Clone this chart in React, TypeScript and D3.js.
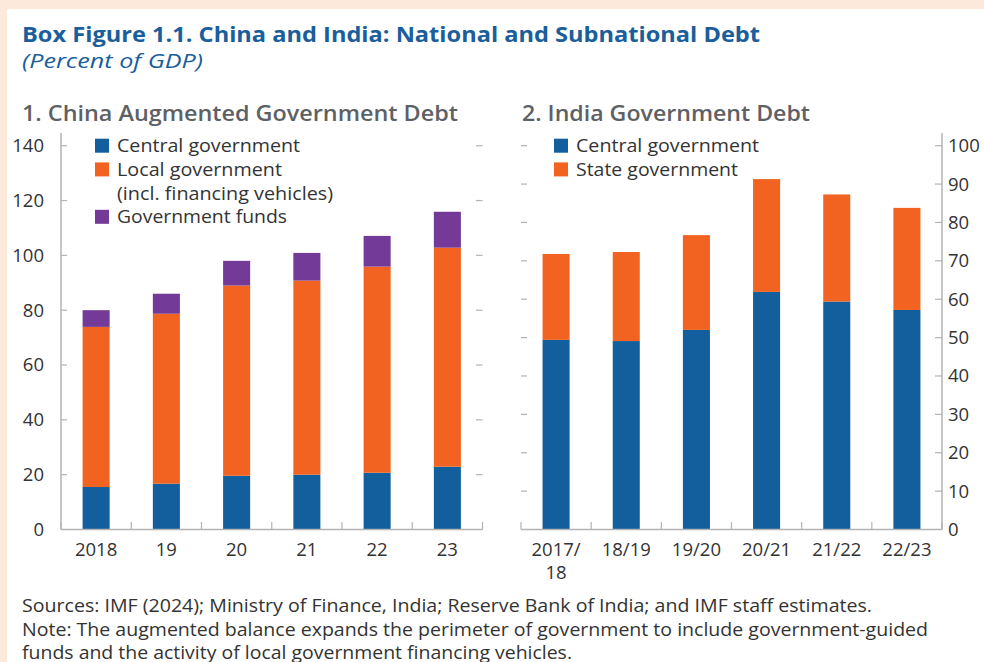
import React from "react";
import * as d3 from "d3";

const chinaYears = ["2018", "19", "20", "21", "22", "23"];
const chinaCentral = [15.5, 16.7, 19.6, 20.0, 20.7, 22.9];
const chinaLocal = [58.4, 62.0, 69.4, 70.8, 75.2, 79.9];
const chinaFunds = [6.1, 7.3, 9.0, 10.1, 11.2, 13.1];
const chinaTicks = [0, 20, 40, 60, 80, 100, 120, 140];

const indiaYears = [["2017/", "18"], ["18/19"], ["19/20"], ["20/21"], ["21/22"], ["22/23"]];
const indiaCentral = [49.4, 49.1, 52.0, 61.9, 59.4, 57.2];
const indiaState = [22.4, 23.2, 24.7, 29.4, 27.9, 26.6];
const indiaTicks = [0, 10, 20, 30, 40, 50, 60, 70, 80, 90, 100];

const BLUE = "#135f9e";
const ORANGE = "#f26322";
const PURPLE = "#733a97";
const AXIS = "#b3b3b3";
const TEXT = "#333333";
const FONT = "'Open Sans', 'DejaVu Sans', sans-serif";

const Y0 = 529.5;
const YTOP = 145.7;

// text stretched to the width it has in the reference layout
const Wide = ({ w, children, ...rest }: any) => (
  <text textLength={w} lengthAdjust="spacingAndGlyphs" {...rest}>
    {children}
  </text>
);

export default function App() {
  // ---------- China panel ----------
  const cx = d3.scaleBand<string>().domain(chinaYears).range([61, 482.5]);
  const cy = d3.scaleLinear().domain([0, 140]).range([Y0, YTOP]);
  const barW = cx.bandwidth() * 0.385;
  const chinaStack = d3
    .stack<number>()
    .keys(["central", "local", "funds"])
    .value((i, k) =>
      k === "central" ? chinaCentral[i] : k === "local" ? chinaLocal[i] : chinaFunds[i]
    )(d3.range(chinaYears.length));
  const chinaColors = [BLUE, ORANGE, PURPLE];

  // ---------- India panel ----------
  const ix = d3.scaleBand<string>().domain(indiaYears.map((d) => d.join(""))).range([521, 942]);
  const iy = d3.scaleLinear().domain([0, 100]).range([Y0, YTOP]);
  const indiaStack = d3
    .stack<number>()
    .keys(["central", "state"])
    .value((i, k) => (k === "central" ? indiaCentral[i] : indiaState[i]))(
    d3.range(indiaYears.length)
  );
  const indiaColors = [BLUE, ORANGE];

  const chinaLegend = [
    { color: BLUE, lines: ["Central government"], w: [183] },
    { color: ORANGE, lines: ["Local government", "(incl. financing vehicles)"], w: [165, 216] },
    { color: PURPLE, lines: ["Government funds"], w: [170] },
  ];
  const indiaLegend = [
    { color: BLUE, lines: ["Central government"], w: [183] },
    { color: ORANGE, lines: ["State government"], w: [162] },
  ];

  const renderLegend = (items: typeof chinaLegend, x: number) => {
    let row = 0;
    return items.map((it, i) => {
      const start = row;
      row += it.lines.length;
      const yc = 145.7 + start * 23.7;
      return (
        <g key={i}>
          <rect x={x} y={yc - 7} width={14} height={14} fill={it.color} />
          {it.lines.map((l, j) => (
            <Wide
              key={j}
              w={it.w[j]}
              x={x + 22}
              y={yc + j * 23.7}
              dy="0.35em"
              fontSize={18.5}
              fill={TEXT}
            >
              {l}
            </Wide>
          ))}
        </g>
      );
    });
  };

  return (
    <div style={{ position: "fixed", left: 0, top: 0 }}>
      <svg width={984} height={662} style={{ display: "block", fontFamily: FONT }}>
        <rect x={0} y={0} width={984} height={662} fill="#fde9dc" />
        <rect x={7} y={9} width={977} height={653} fill="#ffffff" />

        <Wide w={738} x={22} y={42} fontSize={21} fontWeight={700} fill="#1a5e9c">
          Box Figure 1.1. China and India: National and Subnational Debt
        </Wide>
        <Wide w={181} x={22} y={68} fontSize={20.5} fontStyle="italic" fill="#1a5e9c">
          (Percent of GDP)
        </Wide>

        <Wide w={436} x={22} y={121} fontSize={22} fontWeight={600} fill="#5d6166">
          1. China Augmented Government Debt
        </Wide>
        <Wide w={288} x={522} y={121} fontSize={22} fontWeight={600} fill="#5d6166">
          2. India Government Debt
        </Wide>

        {/* China bars */}
        {chinaStack.map((layer, li) =>
          layer.map((d, i) => (
            <rect
              key={`c${li}-${i}`}
              x={(cx(chinaYears[i]) as number) + (cx.bandwidth() - barW) / 2}
              y={cy(d[1])}
              width={barW}
              height={cy(d[0]) - cy(d[1])}
              fill={chinaColors[li]}
            />
          ))
        )}

        {/* China axes */}
        <line x1={61} x2={61} y1={133} y2={Y0} stroke={AXIS} strokeWidth={1.5} />
        <line x1={61} x2={482.5} y1={Y0} y2={Y0} stroke={AXIS} strokeWidth={1.5} />
        {chinaTicks.map((t) => (
          <g key={`ct${t}`}>
            {t > 0 && <line x1={61} x2={67} y1={cy(t)} y2={cy(t)} stroke={AXIS} strokeWidth={1.2} />}
            {t > 0 && <line x1={476} x2={482.5} y1={cy(t)} y2={cy(t)} stroke={AXIS} strokeWidth={1.2} />}
            <text x={44} y={cy(t)} dy="0.35em" textAnchor="end" fontSize={18.5} fill={TEXT}>
              {t}
            </text>
          </g>
        ))}
        {chinaYears.map((y) => (
          <text
            key={`cx${y}`}
            x={(cx(y) as number) + cx.bandwidth() / 2}
            y={556}
            textAnchor="middle"
            fontSize={18.5}
            fill={TEXT}
          >
            {y}
          </text>
        ))}
        {[...chinaYears.map((y) => cx(y) as number), 482.5].map((x, i) => (
          <line key={`cb${i}`} x1={x} x2={x} y1={Y0} y2={522} stroke={AXIS} strokeWidth={1.2} />
        ))}
        {renderLegend(chinaLegend, 95)}

        {/* India bars */}
        {indiaStack.map((layer, li) =>
          layer.map((d, i) => (
            <rect
              key={`i${li}-${i}`}
              x={(ix(indiaYears[i].join("")) as number) + (ix.bandwidth() - barW) / 2}
              y={iy(d[1])}
              width={barW}
              height={iy(d[0]) - iy(d[1])}
              fill={indiaColors[li]}
            />
          ))
        )}

        {/* India axes */}
        <line x1={942} x2={942} y1={133} y2={Y0} stroke={AXIS} strokeWidth={1.5} />
        <line x1={521} x2={942} y1={Y0} y2={Y0} stroke={AXIS} strokeWidth={1.5} />
        {indiaTicks.map((t) => (
          <g key={`it${t}`}>
            {t > 0 && <line x1={521} x2={527} y1={iy(t)} y2={iy(t)} stroke={AXIS} strokeWidth={1.2} />}
            {t > 0 && <line x1={935} x2={942} y1={iy(t)} y2={iy(t)} stroke={AXIS} strokeWidth={1.2} />}
            <text x={948} y={iy(t)} dy="0.35em" fontSize={18.5} fill={TEXT}>
              {t}
            </text>
          </g>
        ))}
        {indiaYears.map((lines) => {
          const xc = (ix(lines.join("")) as number) + ix.bandwidth() / 2;
          return (
            <text key={`ix${lines.join("")}`} y={556} textAnchor="middle" fontSize={18.5} fill={TEXT}>
              {lines.map((l, j) => (
                <tspan key={j} x={xc} dy={j === 0 ? 0 : 23}>
                  {l}
                </tspan>
              ))}
            </text>
          );
        })}
        {[...indiaYears.map((y) => ix(y.join("")) as number), 942].map((x, i) => (
          <line key={`ib${i}`} x1={x} x2={x} y1={Y0} y2={522} stroke={AXIS} strokeWidth={1.2} />
        ))}
        {renderLegend(indiaLegend, 554)}

        {/* Footer */}
        <Wide w={850} x={22} y={612} fontSize={17.5} fill={TEXT}>
          Sources: IMF (2024); Ministry of Finance, India; Reserve Bank of India; and IMF staff estimates.
        </Wide>
        <Wide w={906} x={22} y={636} fontSize={17.5} fill={TEXT}>
          Note: The augmented balance expands the perimeter of government to include government-guided
        </Wide>
        <Wide w={550} x={22} y={659} fontSize={17.5} fill={TEXT}>
          funds and the activity of local government financing vehicles.
        </Wide>
      </svg>
    </div>
  );
}
